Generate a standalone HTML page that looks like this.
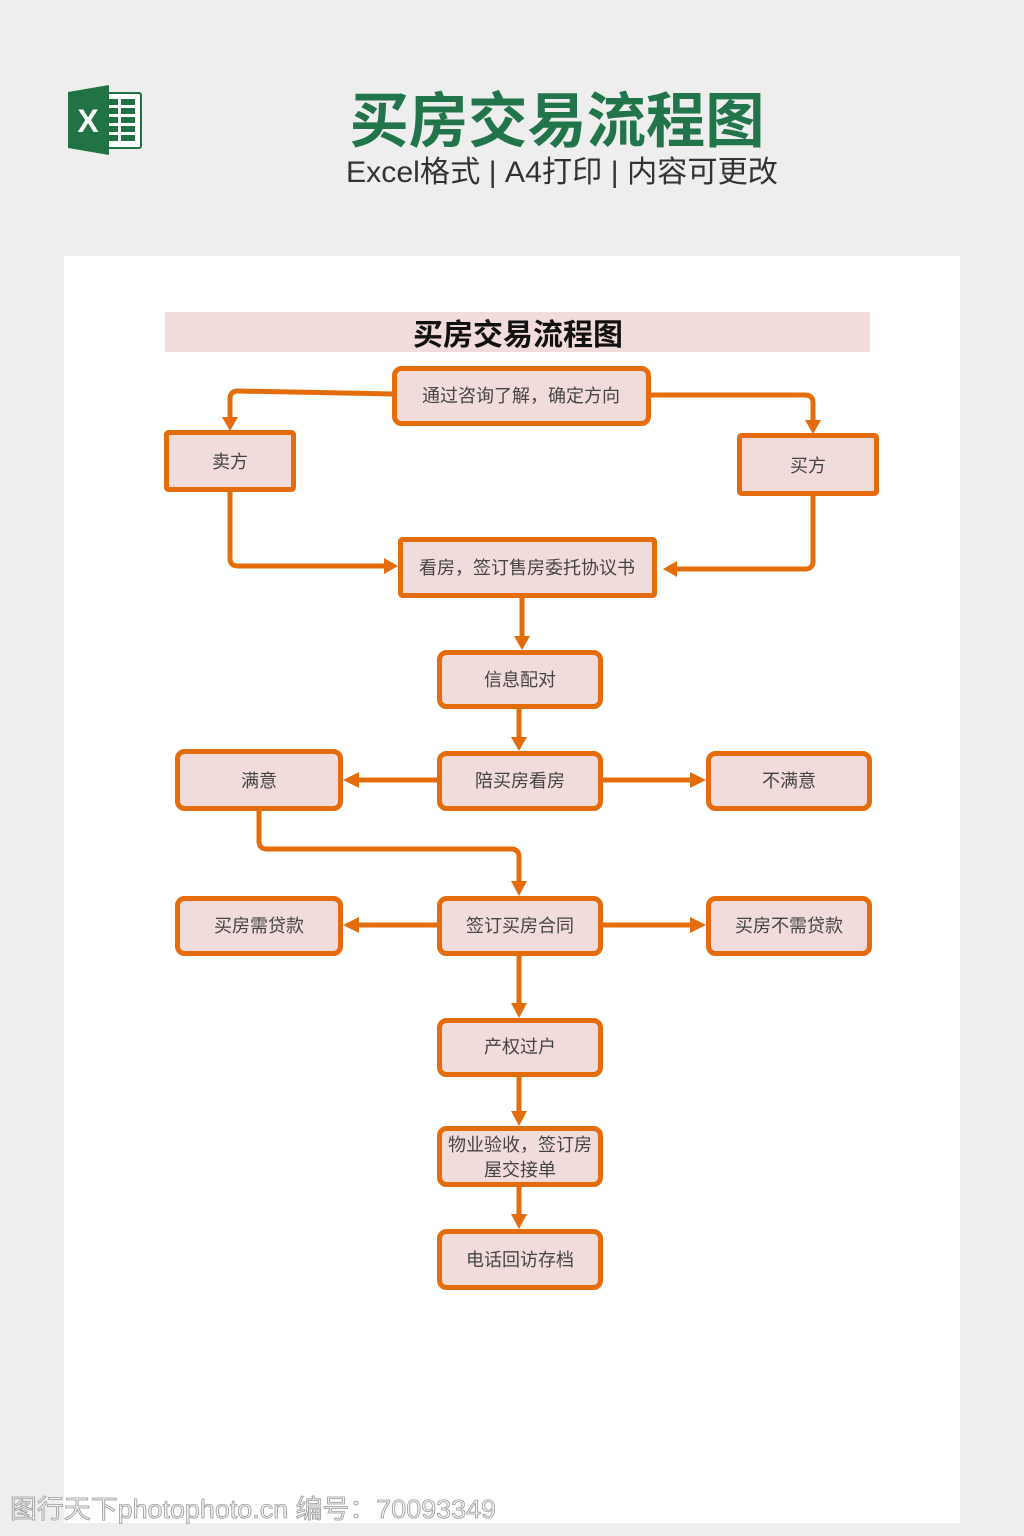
<!DOCTYPE html>
<html><head><meta charset="utf-8">
<style>
html,body{margin:0;padding:0;background:#eeeeee;}
body{width:1024px;height:1536px;overflow:hidden;}
svg{display:block;}
</style></head>
<body>
<svg width="1024" height="1536" viewBox="0 0 1024 1536" xmlns="http://www.w3.org/2000/svg">
<rect x="0" y="0" width="1024" height="1536" fill="#eeeeee"/>
<!-- Excel icon -->
<g>
<rect x="100" y="93" width="41" height="55" rx="2" fill="#ffffff" stroke="#1e7145" stroke-width="2"/>
<g fill="#1e7145">
<rect x="104" y="99" width="14" height="6"/><rect x="121" y="99" width="14" height="6"/>
<rect x="104" y="108" width="14" height="6"/><rect x="121" y="108" width="14" height="6"/>
<rect x="104" y="117" width="14" height="6"/><rect x="121" y="117" width="14" height="6"/>
<rect x="104" y="126" width="14" height="6"/><rect x="121" y="126" width="14" height="6"/>
<rect x="104" y="135" width="14" height="6"/><rect x="121" y="135" width="14" height="6"/>
</g>
<polygon points="68,92 109,85 109,155 68,148" fill="#217346"/>
<text x="88" y="132" font-family="Liberation Sans, sans-serif" font-weight="700" font-size="32" fill="#ffffff" text-anchor="middle">X</text>
</g>
<!-- header -->
<text x="557" y="142" font-family="'Liberation Sans','Noto Sans CJK SC',sans-serif" font-weight="700" font-size="60" fill="#22744a" text-anchor="middle" textLength="415" lengthAdjust="spacingAndGlyphs">买房交易流程图</text>
<text x="562" y="182" font-family="'Liberation Sans','Noto Sans CJK SC',sans-serif" font-size="30" fill="#333333" text-anchor="middle" textLength="432" lengthAdjust="spacingAndGlyphs">Excel格式 | A4打印 | 内容可更改</text>
<!-- panel -->
<rect x="64" y="256" width="896" height="1267" fill="#ffffff"/>
<rect x="165" y="312" width="705" height="40" fill="#f2dcdb"/>
<text x="518" y="345" font-family="'Liberation Sans','Noto Sans CJK SC',sans-serif" font-weight="700" font-size="30" fill="#111111" text-anchor="middle">买房交易流程图</text>

<g fill="none" stroke="#e46c0a" stroke-width="5" stroke-linejoin="round">
<path d="M392,394 L238,391 Q230,391 230,399 L230,418"/>
<path d="M650,395 L805,395 Q813,395 813,403 L813,421"/>
<path d="M230,492 L230,558 Q230,566 238,566 L385,566"/>
<path d="M813,496 L813,561 Q813,569 805,569 L676,569"/>
<path d="M522,597 L522,637"/>
<path d="M519,708 L519,738"/>
<path d="M437,780 L358,780"/>
<path d="M602,780 L691,780"/>
<path d="M259,811 L259,841 Q259,849 267,849 L511,849 Q519,849 519,857 L519,882"/>
<path d="M437,925 L358,925"/>
<path d="M602,925 L691,925"/>
<path d="M519,955 L519,1004"/>
<path d="M519,1076 L519,1112"/>
<path d="M519,1186 L519,1216"/>
</g>
<g fill="#e46c0a">
<polygon points="222,417 238,417 230,431"/>
<polygon points="805,420 821,420 813,434"/>
<polygon points="384,558 384,574 398,566"/>
<polygon points="677,561 677,577 663,569"/>
<polygon points="514,636 530,636 522,650"/>
<polygon points="511,737 527,737 519,751"/>
<polygon points="359,772 359,788 343,780"/>
<polygon points="690,772 690,788 706,780"/>
<polygon points="511,881 527,881 519,896"/>
<polygon points="359,917 359,933 343,925"/>
<polygon points="690,917 690,933 706,925"/>
<polygon points="511,1003 527,1003 519,1018"/>
<polygon points="511,1111 527,1111 519,1126"/>
<polygon points="511,1214 527,1214 519,1229"/>
</g>

<g fill="#f2dcdb" stroke="#e46c0a" stroke-width="5">
<rect x="394.5" y="368.5" width="254" height="55" rx="7"/>
<rect x="166.5" y="432.5" width="127" height="57" rx="2"/>
<rect x="739.5" y="435.5" width="137" height="58" rx="2"/>
<rect x="400.5" y="539.5" width="254" height="56" rx="2"/>
<rect x="439.5" y="652.5" width="161" height="54" rx="7"/>
<rect x="439.5" y="753.5" width="161" height="55" rx="7"/>
<rect x="177.5" y="751.5" width="163" height="57" rx="7"/>
<rect x="708.5" y="753.5" width="161" height="55" rx="7"/>
<rect x="439.5" y="898.5" width="161" height="55" rx="7"/>
<rect x="177.5" y="898.5" width="163" height="55" rx="7"/>
<rect x="708.5" y="898.5" width="161" height="55" rx="7"/>
<rect x="439.5" y="1020.5" width="161" height="54" rx="7"/>
<rect x="439.5" y="1128.5" width="161" height="56" rx="7"/>
<rect x="439.5" y="1231.5" width="161" height="56" rx="7"/>
</g>

<g font-family="'Liberation Sans','Noto Sans CJK SC',sans-serif" font-size="18" fill="#444444" text-anchor="middle">
<text x="521" y="402">通过咨询了解，确定方向</text>
<text x="230" y="468">卖方</text>
<text x="808" y="472">买方</text>
<text x="527" y="574">看房，签订售房委托协议书</text>
<text x="520" y="686">信息配对</text>
<text x="520" y="787">陪买房看房</text>
<text x="259" y="787">满意</text>
<text x="789" y="787">不满意</text>
<text x="520" y="932">签订买房合同</text>
<text x="259" y="932">买房需贷款</text>
<text x="789" y="932">买房不需贷款</text>
<text x="520" y="1053">产权过户</text>
<text x="520" y="1151">物业验收，签订房</text>
<text x="520" y="1176">屋交接单</text>
<text x="520" y="1266">电话回访存档</text>
</g>

<text x="10" y="1518" font-family="'Liberation Sans','Noto Sans CJK SC',sans-serif" font-size="26" fill="#f4f4f4" stroke="#9a9a9a" stroke-width="0.8" textLength="486" lengthAdjust="spacingAndGlyphs">图行天下photophoto.cn 编号：70093349</text>
</svg>
</body></html>
